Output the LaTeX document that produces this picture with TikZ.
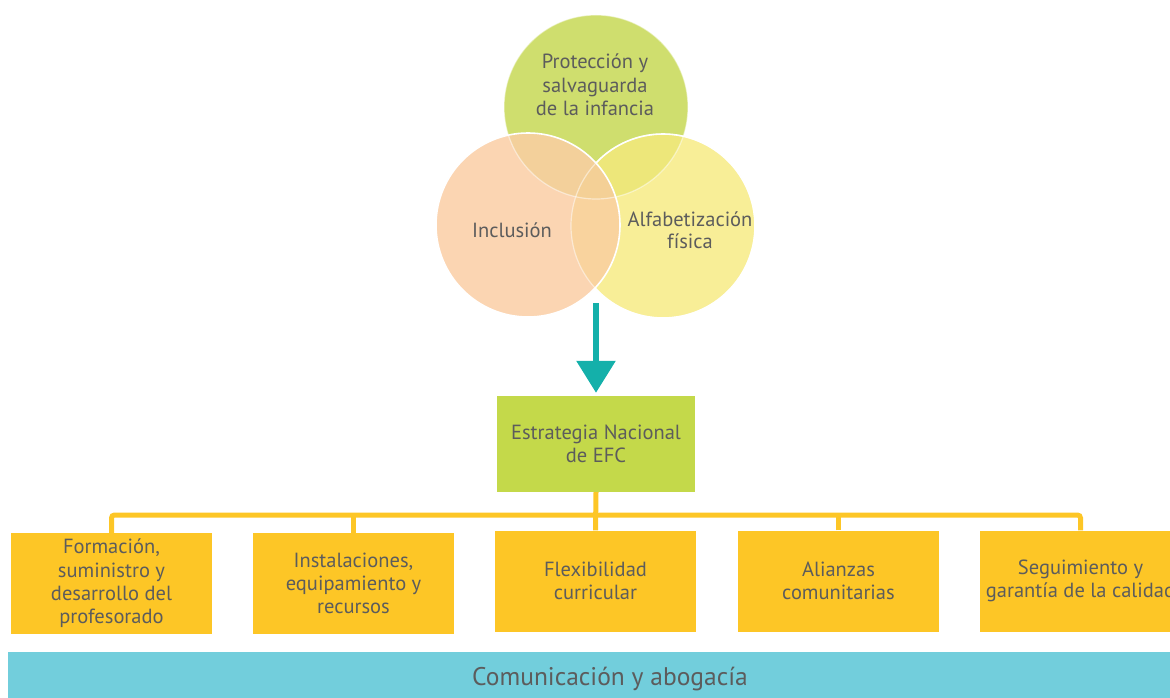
\documentclass[tikz,border=0pt]{standalone}
\usepackage{fontspec}
\setmainfont{PT Sans}
\usetikzlibrary{arrows.meta}
\definecolor{cgreen}{HTML}{CFDE6E}
\definecolor{cyell}{HTML}{F8EE97}
\definecolor{cpeach}{HTML}{FBD5B2}
\definecolor{cgy}{HTML}{EDE77A}
\definecolor{cgp}{HTML}{F3D09B}
\definecolor{cpy}{HTML}{F9D39E}
\definecolor{call}{HTML}{F4D096}
\definecolor{ctxt}{HTML}{5C5C5C}
\definecolor{cteal}{HTML}{14B0AA}
\definecolor{cbox}{HTML}{C4D94A}
\definecolor{corange}{HTML}{FDC626}
\definecolor{ccyan}{HTML}{72CEDC}
\tikzset{
  lbl/.style={text=ctxt, align=center, font=\fontsize{20.5}{23.3}\selectfont},
  ybox/.style={fill=corange, minimum width=201pt, minimum height=101pt, inner sep=0pt, lbl},
  conn/.style={draw=corange, line width=5pt},
}
\begin{document}
\begin{tikzpicture}[x=1pt,y=-1pt]
\useasboundingbox (0,0) rectangle (1170,698);
\clip (0,0) rectangle (1170,698);
% circles
\def\R{92}
\coordinate (cg) at (596,107);
\coordinate (cp) at (528,225);
\coordinate (cy) at (663,226);
\fill[cgreen] (cg) circle (\R);
\fill[cyell] (cy) circle (\R);
\fill[cpeach] (cp) circle (\R);
\begin{scope}\clip (cg) circle (\R); \fill[cgy] (cy) circle (\R); \fill[cgp] (cp) circle (\R); \end{scope}
\begin{scope}\clip (cy) circle (\R); \fill[cpy] (cp) circle (\R); \end{scope}
\begin{scope}\clip (cg) circle (\R); \clip (cy) circle (\R); \fill[call] (cp) circle (\R); \end{scope}
\draw[white, line width=1.2pt, opacity=0.5] (cg) circle (\R);
\draw[white, line width=1.2pt, opacity=0.5] (cy) circle (\R);
\begin{scope}[even odd rule]
\clip (0,0) rectangle (1170,698) (cp) circle (\R);
\draw[white, line width=1.6pt] (cy) circle (\R);
\end{scope}
\draw[white, line width=1.6pt] (cp) circle (\R);
\node[lbl] (tprot) at (595,85) {Protección y\\salvaguarda\\de la infancia};
\node[lbl] (tincl) at (512,230) {Inclusión};
\node[lbl, font=\fontsize{20.5}{21.5}\selectfont] (talf) at (690,230) {Alfabetización\\física};
% arrow
\coordinate (arrS) at (596,303);
\node[fill=cbox, minimum width=198pt, minimum height=96pt, inner sep=0pt, lbl] (efc) at (596,444) {Estrategia Nacional\\de EFC};
\draw[cteal, line width=6pt, -{Triangle[length=32pt,width=38pt]}, shorten >=3pt] (arrS) -- (efc.north);
% boxes
\node[ybox] (b1) at (111.5,583.5) {Formación,\\suministro y\\desarrollo del\\profesorado};
\node[ybox] (b2) at (353.5,583.5) {Instalaciones,\\equipamiento y\\recursos};
\node[ybox] (b3) at (595.5,581) {Flexibilidad\\curricular};
\node[ybox] (b4) at (838.5,581) {Alianzas\\comunitarias};
\node[ybox] (b5) at (1080.5,581) {Seguimiento y\\garantía de la calidad};
% connectors
\draw[conn, rounded corners=3pt] (b1.north) -- (b1.north |- 0,515) -- (b5.north |- 0,515) -- (b5.north);
\draw[conn] (b2.north) -- (b2.north |- 0,515);
\draw[conn] (b4.north) -- (b4.north |- 0,515);
\draw[conn] (efc.south) -- (b3.north);
% bottom bar
\node[fill=ccyan, minimum width=1203pt, minimum height=46pt, inner sep=0pt, anchor=north west] (bar) at (8,652) {};
\node[lbl, font=\fontsize{25.5}{28}\selectfont] (bartxt) at (610,679) {Comunicación y abogacía};
\end{tikzpicture}
\end{document}
